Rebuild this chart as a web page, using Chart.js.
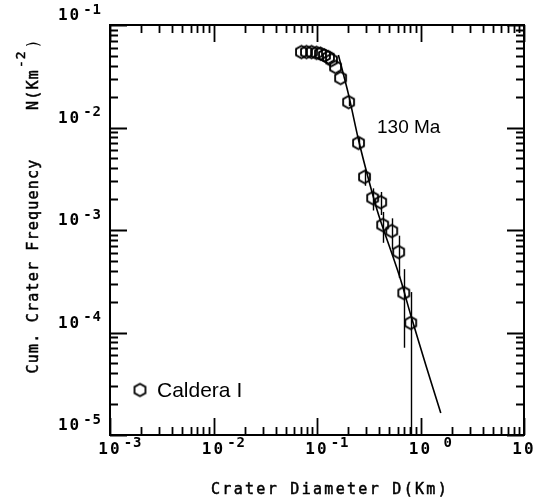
<!DOCTYPE html>
<html>
<head>
<meta charset="utf-8">
<script src="https://cdn.jsdelivr.net/npm/chart.js@4.4.0/dist/chart.umd.min.js"></script>
<style>
  html, body { margin: 0; padding: 0; background: #fff; }
  #grafico { display: block; }
</style>
</head>
<body>
<canvas id="grafico" width="546" height="503"></canvas>
<script>
// valores (diametro em km, N em km^-2)
var diametros = [0.0708, 0.0791, 0.0885, 0.0989, 0.108, 0.118, 0.129, 0.138, 0.151, 0.169,
                 0.202, 0.252, 0.288, 0.345, 0.412, 0.431, 0.527, 0.615, 0.689, 0.805];
var frequencias = [0.0545, 0.0545, 0.0545, 0.0535, 0.0525, 0.0505, 0.0485, 0.0456, 0.0389, 0.0304,
                   0.0177, 0.00706, 0.00329, 0.00205, 0.00187, 0.00112, 0.000977, 0.000610, 0.000243, 0.000124];
// barras de erro (null = menor que o simbolo)
var erroMin = [null, null, null, null, null, null, null, null, null, null,
               0.0162, 0.0062, 0.0027, 0.00155, 0.00140, 0.00075, 0.00065, 0.00034, 0.000071, 0.00001];
var erroMax = [null, null, null, null, null, null, null, null, null, null,
               0.0192, 0.0080, 0.0039, 0.00255, 0.00235, 0.00150, 0.00130, 0.00088, 0.000415, 0.000248];

// curva de producao (130 Ma)
var curvaX = [0.161, 0.202, 0.252, 0.316, 0.394, 0.515, 0.644, 0.805, 1.125, 1.57];
var curvaY = [0.0509, 0.0208, 0.00755, 0.00308, 0.00140, 0.000638, 0.000325, 0.000148, 0.0000482, 0.0000164];

var xTicks = [0.001, 0.01, 0.1, 1, 10];
var xExpoentes = ['-3', '-2', '-1', ' 0', ''];
var yTicks = [0.1, 0.01, 0.001, 0.0001, 0.00001];
var yExpoentes = ['-1', '-2', '-3', '-4', '-5'];

var fonteMono = '"DejaVu Sans Mono", "Liberation Mono", monospace';

function criarHexagono(raio) {
  var c = document.createElement('canvas');
  var t = Math.ceil(raio * 2 + 4);
  c.width = t;
  c.height = t;
  var g = c.getContext('2d');
  g.beginPath();
  for (var i = 0; i < 6; i++) {
    var a = -Math.PI / 2 + i * Math.PI / 3;
    var px = t / 2 + raio * Math.cos(a);
    var py = t / 2 + raio * Math.sin(a);
    if (i == 0) g.moveTo(px, py); else g.lineTo(px, py);
  }
  g.closePath();
  g.lineWidth = 1.8;
  g.strokeStyle = '#000';
  g.stroke();
  return c;
}

var hexagono = criarHexagono(6.3);

var pontos = [];
for (var i = 0; i < diametros.length; i++) {
  pontos.push({ x: diametros[i], y: frequencias[i] });
}
var curva = [];
for (var j = 0; j < curvaX.length; j++) {
  curva.push({ x: curvaX[j], y: curvaY[j] });
}

function textoEspacado(ctx, texto, x, y, espaco) {
  ctx.letterSpacing = espaco + 'px';
  ctx.fillText(texto, x, y);
  ctx.letterSpacing = '0px';
}

var moldura = {
  id: 'moldura',
  afterDatasetsDraw: function(chart) {
    var ctx = chart.ctx;
    var area = chart.chartArea;
    var sx = chart.scales.x;
    var sy = chart.scales.y;

    ctx.save();
    ctx.strokeStyle = '#000';
    ctx.fillStyle = '#000';

    // barras de erro
    ctx.lineWidth = 1.4;
    for (var i = 0; i < diametros.length; i++) {
      if (erroMin[i] == null) continue;
      var px = Math.round(sx.getPixelForValue(diametros[i])) + 0.5;
      var y1 = Math.min(sy.getPixelForValue(erroMin[i]), area.bottom);
      var y2 = sy.getPixelForValue(erroMax[i]);
      ctx.beginPath();
      ctx.moveTo(px, y1);
      ctx.lineTo(px, y2);
      ctx.stroke();
    }

    // moldura
    ctx.lineWidth = 2;
    ctx.strokeRect(area.left, area.top, area.right - area.left, area.bottom - area.top);

    // ticks para dentro nos quatro lados
    ctx.lineWidth = 1.8;
    var grande = 17, pequeno = 8;
    var d, k, v, p, len;
    for (d = -3; d <= 1; d++) {
      for (k = 1; k <= 9; k++) {
        v = k * Math.pow(10, d);
        if (v > 10.0001) break;
        p = Math.round(sx.getPixelForValue(v)) + 0.5;
        len = (k == 1) ? grande : pequeno;
        ctx.beginPath();
        ctx.moveTo(p, area.bottom); ctx.lineTo(p, area.bottom - len);
        ctx.moveTo(p, area.top); ctx.lineTo(p, area.top + len);
        ctx.stroke();
      }
    }
    for (d = -5; d <= -1; d++) {
      for (k = 1; k <= 9; k++) {
        v = k * Math.pow(10, d);
        if (v > 0.10001) break;
        p = Math.round(sy.getPixelForValue(v)) + 0.5;
        len = (k == 1) ? grande : pequeno;
        ctx.beginPath();
        ctx.moveTo(area.left, p); ctx.lineTo(area.left + len, p);
        ctx.moveTo(area.right, p); ctx.lineTo(area.right - len, p);
        ctx.stroke();
      }
    }

    // rotulos do eixo x
    ctx.textBaseline = 'middle';
    for (var a = 0; a < xTicks.length; a++) {
      p = sx.getPixelForValue(xTicks[a]);
      ctx.font = 'bold 16px ' + fonteMono;
      ctx.textAlign = 'center';
      textoEspacado(ctx, '10', p, 450, 2);
      ctx.letterSpacing = '2px';
      var larg = ctx.measureText('10').width;
      ctx.letterSpacing = '0px';
      if (xExpoentes[a] != '') {
        ctx.font = 'bold 14px ' + fonteMono;
        ctx.textAlign = 'left';
        textoEspacado(ctx, xExpoentes[a], p + larg / 2 + 2, 443, 1);
      }
    }

    // rotulos do eixo y
    for (var b = 0; b < yTicks.length; b++) {
      p = sy.getPixelForValue(yTicks[b]);
      ctx.font = 'bold 14px ' + fonteMono;
      ctx.textAlign = 'right';
      textoEspacado(ctx, yExpoentes[b], 102, p - 15, 1);
      ctx.letterSpacing = '1px';
      var lexp = ctx.measureText(yExpoentes[b]).width;
      ctx.letterSpacing = '0px';
      ctx.font = 'bold 16px ' + fonteMono;
      textoEspacado(ctx, '10', 102 - lexp - 2, p - 9, 2);
    }

    // titulos dos eixos
    ctx.font = '15px ' + fonteMono;
    ctx.lineWidth = 0.5;
    ctx.textAlign = 'center';
    textoEspacado(ctx, 'Crater Diameter D(Km)', 330, 490, 2.3);
    ctx.letterSpacing = '2.3px';
    ctx.strokeText('Crater Diameter D(Km)', 330, 490);
    ctx.letterSpacing = '0px';

    ctx.save();
    ctx.translate(34, 0);
    ctx.rotate(-Math.PI / 2);
    ctx.textAlign = 'center';
    textoEspacado(ctx, 'Cum. Crater Frequency', -266, 0, 1.2);
    ctx.letterSpacing = '1.2px';
    ctx.strokeText('Cum. Crater Frequency', -266, 0);
    ctx.letterSpacing = '0px';
    ctx.textAlign = 'left';
    textoEspacado(ctx, 'N(Km', -110, 0, 1.2);
    ctx.letterSpacing = '1.2px';
    ctx.strokeText('N(Km', -110, 0);
    var wN = ctx.measureText('N(Km').width;
    ctx.letterSpacing = '0px';
    ctx.font = '13px ' + fonteMono;
    textoEspacado(ctx, '-2', -110 + wN + 1, -12, 1);
    ctx.letterSpacing = '1px';
    ctx.strokeText('-2', -110 + wN + 1, -12);
    var w2 = ctx.measureText('-2').width;
    ctx.letterSpacing = '0px';
    ctx.font = '15px ' + fonteMono;
    textoEspacado(ctx, ')', -110 + wN + w2 + 3, 0, 1.2);
    ctx.restore();

    // legenda e anotacao
    ctx.drawImage(hexagono, 140 - hexagono.width / 2, 390 - hexagono.height / 2);
    ctx.font = '21px "Liberation Sans", Arial, sans-serif';
    ctx.textAlign = 'left';
    ctx.fillText('Caldera I', 157, 391);
    ctx.font = '19px "Liberation Sans", Arial, sans-serif';
    ctx.fillText('130 Ma', 377, 128);

    ctx.restore();
  }
};

var ctx = document.getElementById('grafico').getContext('2d');
var grafico = new Chart(ctx, {
  type: 'scatter',
  data: {
    datasets: [{
      label: 'Caldera I',
      data: pontos,
      pointStyle: hexagono,
      showLine: false,
      order: 1
    }, {
      type: 'line',
      label: '130 Ma',
      data: curva,
      showLine: true,
      borderColor: '#000',
      borderWidth: 1.6,
      pointRadius: 0,
      tension: 0.3,
      fill: false,
      order: 2
    }]
  },
  options: {
    responsive: false,
    animation: false,
    devicePixelRatio: 1,
    layout: {
      padding: { left: 110, top: 25, right: 22, bottom: 68 }
    },
    plugins: {
      legend: { display: false },
      tooltip: { enabled: false }
    },
    scales: {
      x: { type: 'logarithmic', min: 0.001, max: 10, display: false },
      y: { type: 'logarithmic', min: 0.00001, max: 0.1, display: false }
    }
  },
  plugins: [moldura]
});
</script>
</body>
</html>
